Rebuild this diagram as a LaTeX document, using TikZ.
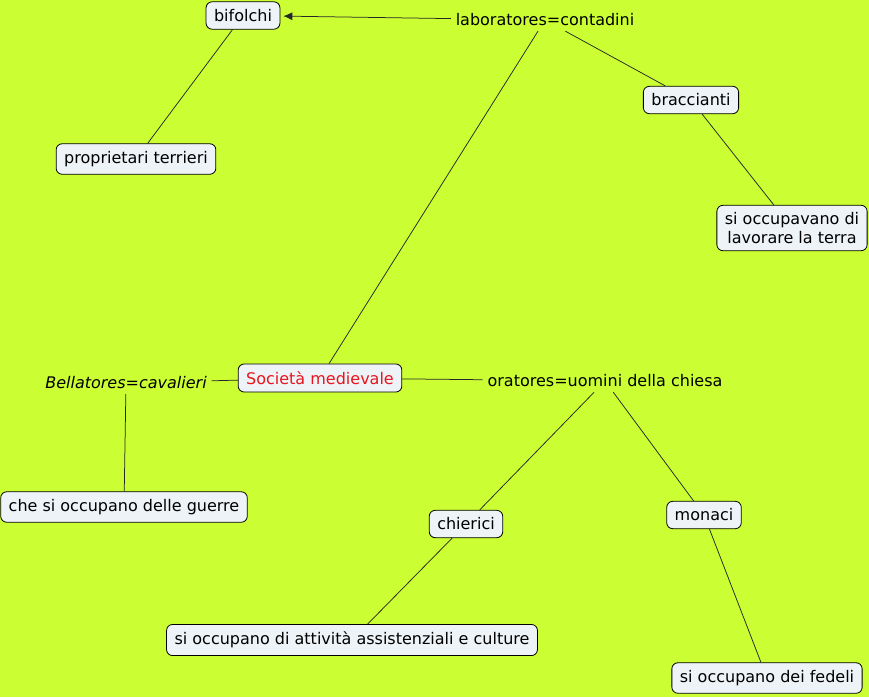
\documentclass[tikz,border=0pt]{standalone}
\usepackage{fontspec}
\setmainfont{DejaVu Sans}
\usetikzlibrary{arrows.meta}
\definecolor{bg}{HTML}{CCFF33}
\definecolor{boxfill}{HTML}{EEF3F7}
\definecolor{redtxt}{HTML}{E8141E}
\tikzset{
  concept/.style={draw=black, fill=boxfill, rounded corners=6pt, line width=0.8pt,
    inner xsep=8pt, inner ysep=7.5pt, font=\fontsize{16pt}{19pt}\selectfont, align=center},
  phrase/.style={inner sep=2pt, outer sep=3pt, font=\fontsize{16pt}{19pt}\selectfont},
  link/.style={draw=black!85, line width=0.75pt},
}
\begin{document}
\begin{tikzpicture}[x=1pt,y=-1pt]
\fill[bg] (0,0) rectangle (869,697);
\useasboundingbox (0,0) rectangle (869,697);

\node[concept] (bif) at (243,15.5) {bifolchi};
\node[phrase] (lab) at (545,20) {laboratores=contadini};
\node[concept] (bra) at (691,100) {braccianti};
\node[concept, inner ysep=7pt] (occ) at (792,228) {si occupavano di\\lavorare la terra};
\node[concept] (pro) at (136,159) {proprietari terrieri};
\node[concept, text=redtxt] (soc) at (320,378) {Società medievale};
\node[phrase] (ora) at (605,381) {oratores=uomini della chiesa};
\node[phrase, font=\fontsize{16pt}{19pt}\selectfont\itshape] (bel) at (126,383) {Bellatores=cavalieri};
\node[concept] (gue) at (124,507) {che si occupano delle guerre};
\node[concept] (chi) at (466,524) {chierici};
\node[concept] (mon) at (704,515) {monaci};
\node[concept] (att) at (352,640) {si occupano di attività assistenziali e culture};
\node[concept] (fed) at (767,678) {si occupano dei fedeli};

\draw[link, -{Latex[length=9pt,width=8pt]}, shorten >=3pt] (lab) -- (bif);
\draw[link] (lab) -- (bra);
\draw[link] (lab) -- (soc);
\draw[link] (bif) -- (pro);
\draw[link] (bra) -- (occ);
\draw[link] (soc) -- (ora);
\draw[link] (soc) -- (bel);
\draw[link] (bel) -- (gue);
\draw[link] (ora) -- (chi);
\draw[link] (ora) -- (mon);
\draw[link] (chi) -- (att);
\draw[link] (mon) -- (fed);
\end{tikzpicture}
\end{document}
